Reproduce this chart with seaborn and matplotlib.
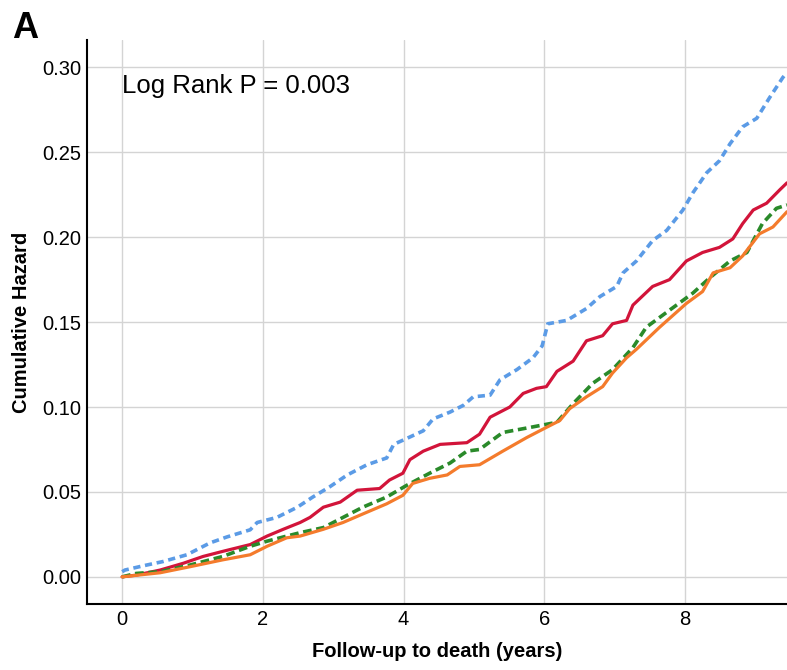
import pandas as pd
import seaborn as sns
import matplotlib.pyplot as plt

# Cumulative hazard curves
blue_t = [0, 0.04, 0.3, 0.58, 0.92, 1.25, 1.49, 1.82, 1.92, 2.2, 2.49, 2.71, 2.95, 3.2, 3.48,
          3.76, 3.86, 4.02, 4.28, 4.42, 4.66, 4.85, 4.99, 5.23, 5.37, 5.61, 5.84, 5.97, 6.05,
          6.32, 6.6, 6.79, 7.03, 7.12, 7.31, 7.54, 7.74, 7.97, 8.11, 8.31, 8.49, 8.64, 8.82,
          9.02, 9.2, 9.39, 9.45]
blue_v = [0.003, 0.004, 0.0065, 0.009, 0.013, 0.02, 0.0235, 0.0277, 0.032, 0.035, 0.041, 0.047,
          0.053, 0.06, 0.066, 0.07, 0.078, 0.081, 0.086, 0.093, 0.097, 0.101, 0.106, 0.107, 0.116,
          0.122, 0.129, 0.136, 0.149, 0.151, 0.158, 0.165, 0.171, 0.179, 0.186, 0.198, 0.204,
          0.216, 0.226, 0.238, 0.245, 0.255, 0.265, 0.27, 0.282, 0.294, 0.297]

red_t = [0, 0.2, 0.54, 0.87, 1.15, 1.43, 1.82, 2.06, 2.29, 2.53, 2.67, 2.86, 3.1, 3.34, 3.66,
         3.8, 3.99, 4.09, 4.28, 4.52, 4.9, 5.08, 5.23, 5.51, 5.7, 5.89, 6.03, 6.18, 6.41, 6.6,
         6.83, 6.97, 7.17, 7.26, 7.54, 7.78, 8.02, 8.25, 8.49, 8.68, 8.82, 8.97, 9.16, 9.35, 9.45]
red_v = [0, 0.001, 0.004, 0.008, 0.012, 0.015, 0.019, 0.024, 0.028, 0.032, 0.035, 0.041, 0.044,
         0.051, 0.052, 0.057, 0.061, 0.069, 0.074, 0.078, 0.079, 0.084, 0.094, 0.1, 0.108, 0.111,
         0.112, 0.121, 0.127, 0.139, 0.142, 0.149, 0.151, 0.16, 0.171, 0.175, 0.186, 0.191,
         0.194, 0.199, 0.208, 0.216, 0.22, 0.228, 0.232]

green_t = [0, 0.2, 0.54, 0.97, 1.43, 1.82, 2.06, 2.34, 2.53, 2.86, 3.14, 3.42, 3.76, 4.05, 4.37,
           4.66, 4.9, 5.08, 5.41, 5.8, 6.18, 6.41, 6.69, 6.97, 7.26, 7.45, 7.78, 8.11, 8.35, 8.64,
           8.88, 9.1, 9.3, 9.45]
green_v = [0, 0.002, 0.003, 0.007, 0.012, 0.018, 0.021, 0.024, 0.026, 0.029, 0.035, 0.041, 0.047,
           0.054, 0.061, 0.067, 0.074, 0.075, 0.085, 0.088, 0.091, 0.102, 0.114, 0.122, 0.135,
           0.147, 0.157, 0.167, 0.176, 0.186, 0.191, 0.208, 0.217, 0.219]

orange_t = [0, 0.54, 0.97, 1.43, 1.82, 2.06, 2.34, 2.53, 2.86, 3.14, 3.42, 3.76, 3.99, 4.13, 4.37,
            4.62, 4.8, 5.08, 5.41, 5.75, 6.03, 6.22, 6.36, 6.6, 6.83, 6.97, 7.17, 7.31, 7.64, 8.02,
            8.25, 8.4, 8.64, 8.82, 9.06, 9.25, 9.45]
orange_v = [0, 0.0024, 0.006, 0.01, 0.013, 0.018, 0.023, 0.024, 0.028, 0.032, 0.037, 0.043, 0.048,
            0.055, 0.058, 0.06, 0.065, 0.066, 0.074, 0.082, 0.088, 0.092, 0.099, 0.106, 0.112,
            0.12, 0.129, 0.134, 0.147, 0.161, 0.168, 0.179, 0.182, 0.189, 0.202, 0.206, 0.215]

x_ticks = [0, 2, 4, 6, 8]
y_ticks = [0.00, 0.05, 0.10, 0.15, 0.20, 0.25, 0.30]

groups = ["blue", "red", "green", "orange"]
frames = []
for name, t, v in [("blue", blue_t, blue_v), ("red", red_t, red_v),
                   ("green", green_t, green_v), ("orange", orange_t, orange_v)]:
    frames.append(pd.DataFrame({"time": t, "hazard": v, "group": name}))
df = pd.concat(frames, ignore_index=True)

sns.set_style("whitegrid")
plt.rcParams["font.family"] = ["Liberation Sans", "DejaVu Sans"]

fig = plt.figure(figsize=(7.87, 6.7), dpi=100)
ax = fig.add_axes([0.1105, 0.0985, 0.8895, 0.8415])

palette = {"blue": "#5b9be6", "red": "#d2143a", "green": "#2a8a2a", "orange": "#f47b2c"}
dashes = {"blue": (2.0, 1.3), "red": "", "green": (2.4, 1.3), "orange": ""}
sizes = {"blue": 2.6, "red": 2.3, "green": 2.6, "orange": 2.3}

sns.lineplot(data=df, x="time", y="hazard", hue="group", style="group", size="group",
             hue_order=groups, style_order=groups, size_order=groups,
             palette=palette, dashes=dashes, sizes=sizes,
             estimator=None, sort=False, legend=False, ax=ax)

ax.set_xlim(-0.5, 9.45)
ax.set_ylim(-0.016, 0.316)
ax.set_xticks(x_ticks)
ax.set_yticks(y_ticks)
ax.set_yticklabels([f"{y:.2f}" for y in y_ticks])
ax.tick_params(axis="both", labelsize=14.5, length=0, pad=4, labelcolor="black")
ax.grid(True, color="#d4d4d4", linewidth=1)

for side in ["top", "right"]:
    ax.spines[side].set_visible(False)
for side in ["left", "bottom"]:
    ax.spines[side].set_color("black")
    ax.spines[side].set_linewidth(1.5)

ax.set_xlabel("Follow-up to death (years)", fontsize=14.5, fontweight="bold",
              labelpad=10, color="black")
ax.set_ylabel("Cumulative Hazard", fontsize=14.5, fontweight="bold",
              labelpad=8, color="black")

ax.text(0, 0.289, "Log Rank P = 0.003", fontsize=18.5, va="center", ha="left", color="black")
fig.text(0.015, 0.944, "A", fontsize=26, fontweight="bold", ha="left", va="baseline",
         color="black")

fig.savefig("out.png", dpi=100)
